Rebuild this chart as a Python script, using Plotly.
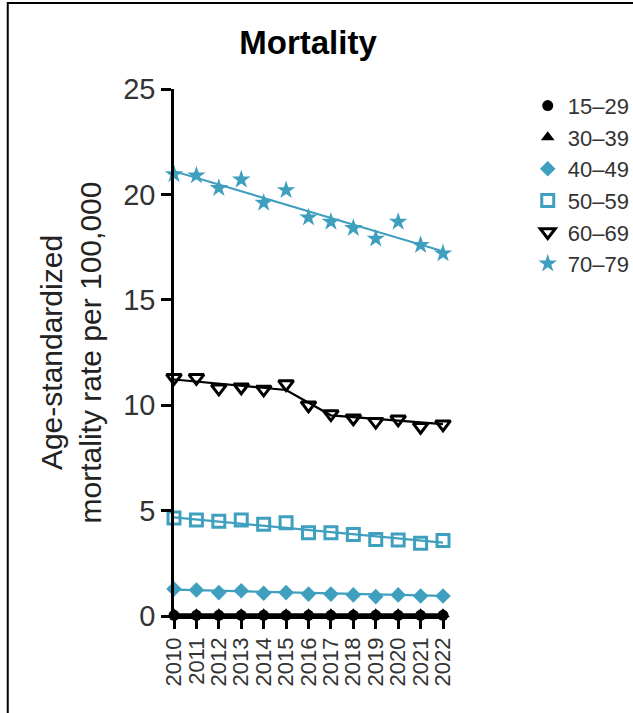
import plotly.graph_objects as go

# Calendar years on the x axis
years = list(range(2010, 2023))
year_labels = [str(y) for y in years]

# Age-standardized mortality rate per 100,000, by age group
rate_15_29 = [0.03, 0.03, 0.03, 0.03, 0.03, 0.03, 0.03, 0.03, 0.03, 0.03, 0.03, 0.03, 0.03]
rate_30_39 = [0.08, 0.08, 0.08, 0.08, 0.08, 0.08, 0.08, 0.08, 0.08, 0.08, 0.08, 0.08, 0.08]
rate_40_49 = [1.28, 1.23, 1.11, 1.20, 1.08, 1.11, 1.04, 1.04, 1.00, 0.92, 1.00, 0.95, 0.95]
rate_50_59 = [4.65, 4.55, 4.50, 4.55, 4.35, 4.42, 3.95, 3.95, 3.87, 3.63, 3.60, 3.45, 3.58]
rate_60_69 = [11.30, 11.30, 10.80, 10.85, 10.75, 11.00, 10.00, 9.58, 9.38, 9.22, 9.33, 8.98, 9.10]
rate_70_79 = [20.95, 20.90, 20.30, 20.70, 19.60, 20.20, 18.90, 18.70, 18.40, 17.90, 18.70, 17.60, 17.20]

# Fitted trend segments (joinpoint years and fitted values)
fit_x_15_29 = [2010, 2022]
fit_15_29 = [0.03, 0.03]
fit_x_30_39 = [2010, 2022]
fit_30_39 = [0.08, 0.08]
fit_x_40_49 = [2010, 2022]
fit_40_49 = [1.25, 0.95]
fit_x_50_59 = [2010, 2022]
fit_50_59 = [4.68, 3.48]
fit_x_60_69 = [2010, 2015, 2017, 2022]
fit_60_69 = [11.22, 10.72, 9.52, 9.10]
fit_x_70_79 = [2010, 2022]
fit_70_79 = [21.10, 17.30]

y_ticks = [0, 5, 10, 15, 20, 25]

TEAL = "#3f9fbf"
BLACK = "#000000"
FONT = "Liberation Sans, Arial, Helvetica, sans-serif"

groups = [
    ("15–29", rate_15_29, fit_x_15_29, fit_15_29, BLACK,
     dict(symbol="circle", size=11, color=BLACK)),
    ("30–39", rate_30_39, fit_x_30_39, fit_30_39, BLACK,
     dict(symbol="triangle-up", size=12, color=BLACK)),
    ("40–49", rate_40_49, fit_x_40_49, fit_40_49, TEAL,
     dict(symbol="diamond", size=12, color=TEAL)),
    ("50–59", rate_50_59, fit_x_50_59, fit_50_59, TEAL,
     dict(symbol="square-open", size=12, color=TEAL, line=dict(width=3, color=TEAL))),
    ("60–69", rate_60_69, fit_x_60_69, fit_60_69, BLACK,
     dict(symbol="triangle-down-open", size=13, color=BLACK, line=dict(width=3, color=BLACK))),
    ("70–79", rate_70_79, fit_x_70_79, fit_70_79, TEAL,
     dict(symbol="star", size=14, color=TEAL)),
]

fig = go.Figure()

for name, values, fx, fy, color, marker in groups:
    fig.add_trace(go.Scatter(
        x=fx, y=fy, mode="lines",
        line=dict(color=color, width=2.2),
        showlegend=False, legendgroup=name, hoverinfo="skip",
        cliponaxis=False,
    ))
    fig.add_trace(go.Scatter(
        x=years, y=values, mode="markers", name=name,
        marker=marker, legendgroup=name,
        cliponaxis=False,
    ))

# Outer frame of the panel
fig.add_shape(type="rect", xref="paper", yref="paper",
              x0=-0.618, x1=1.8, y0=-0.6, y1=1.163,
              line=dict(color=BLACK, width=2), layer="above")

fig.update_layout(
    width=633, height=713,
    margin=dict(l=174, r=190, t=89, b=97, autoexpand=False),
    paper_bgcolor="white", plot_bgcolor="white",
    font=dict(family=FONT, color="#222222"),
    title=dict(text="<b>Mortality</b>", x=308 / 633, xanchor="center",
               y=1 - 42 / 713, yanchor="middle",
               font=dict(size=33, color=BLACK, family=FONT)),
    showlegend=True,
    legend=dict(
        x=1.315, xanchor="left", y=1.008, yanchor="top",
        font=dict(size=22, color="#333333", family=FONT),
        traceorder="grouped", tracegroupgap=0,
        bgcolor="rgba(0,0,0,0)", itemclick=False,
    ),
    xaxis=dict(
        range=[2010, 2022], tickmode="array", tickvals=years, ticktext=year_labels,
        tickangle=-90, tickfont=dict(size=22, color="#333333"),
        showline=True, linecolor=BLACK, linewidth=2.5,
        ticks="outside", ticklen=10, tickwidth=2.5, tickcolor=BLACK,
        showgrid=False, zeroline=False,
    ),
    yaxis=dict(
        range=[0, 25], tickmode="array", tickvals=y_ticks,
        tickfont=dict(size=29, color="#333333"),
        showline=True, linecolor=BLACK, linewidth=2.5,
        ticks="outside", ticklen=10, tickwidth=2.5, tickcolor=BLACK,
        showgrid=False, zeroline=False,
        title=dict(text="Age-standardized<br>mortality rate per 100,000",
                   font=dict(size=30, color="#222222"), standoff=13),
    ),
)

fig.write_html("out.html")
